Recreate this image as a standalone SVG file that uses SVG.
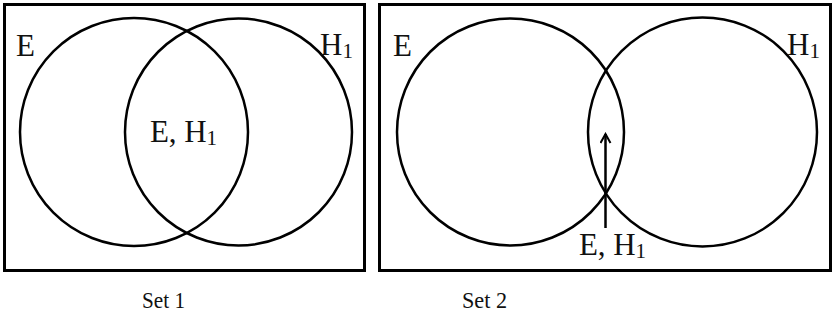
<svg xmlns="http://www.w3.org/2000/svg" width="833" height="327" viewBox="0 0 833 327">
<style>
.frame{fill:none;stroke:#000;stroke-width:3}
.c{fill:none;stroke:#000;stroke-width:2.5}
.t{font-family:"Liberation Serif","Times New Roman",serif;font-size:31px;fill:#111}
.s{font-size:21px}
.cap{font-family:"Liberation Serif","Times New Roman",serif;font-size:24px;fill:#111}
.conn{fill:none;stroke:#000;stroke-width:2.5}
</style>
<defs>
<marker id="ah" viewBox="0 0 12 12" refX="10" refY="6" markerWidth="12" markerHeight="12" markerUnits="userSpaceOnUse" orient="auto">
<path d="M1,1 L10,6 L1,11" fill="none" stroke="#000" stroke-width="2"/>
</marker>
</defs>
<g id="set1">
<rect class="frame" x="4.5" y="4.5" width="360" height="266"/>
<g id="set1-E"><circle class="c" cx="134" cy="132" r="114"/><text class="t" x="16" y="56">E</text></g>
<g id="set1-H1"><circle class="c" cx="238.5" cy="132" r="113.5"/><text class="t" x="320" y="55">H<tspan class="s" dy="3">1</tspan></text></g>
<g id="set1-EH1"><text class="t" x="150" y="142" textLength="67">E, H<tspan class="s" dy="3">1</tspan></text></g>
<text class="cap" x="142" y="308" textLength="43" lengthAdjust="spacingAndGlyphs">Set 1</text>
</g>
<g id="set2">
<rect class="frame" x="379.5" y="4.5" width="451" height="266"/>
<g id="set2-E"><circle class="c" cx="510.5" cy="132" r="113.5"/><text class="t" x="393" y="56">E</text></g>
<g id="set2-H1"><circle class="c" cx="702.5" cy="132" r="114.5"/><text class="t" x="787" y="55">H<tspan class="s" dy="3">1</tspan></text></g>
<g id="set2-EH1"><text class="t" x="579" y="255" textLength="67">E, H<tspan class="s" dy="3">1</tspan></text></g>
<text class="cap" x="462" y="308" textLength="45" lengthAdjust="spacingAndGlyphs">Set 2</text>
</g>
<g id="connectors">
<line class="conn" x1="605.5" y1="228" x2="605.5" y2="134" marker-end="url(#ah)"/>
</g>
</svg>
